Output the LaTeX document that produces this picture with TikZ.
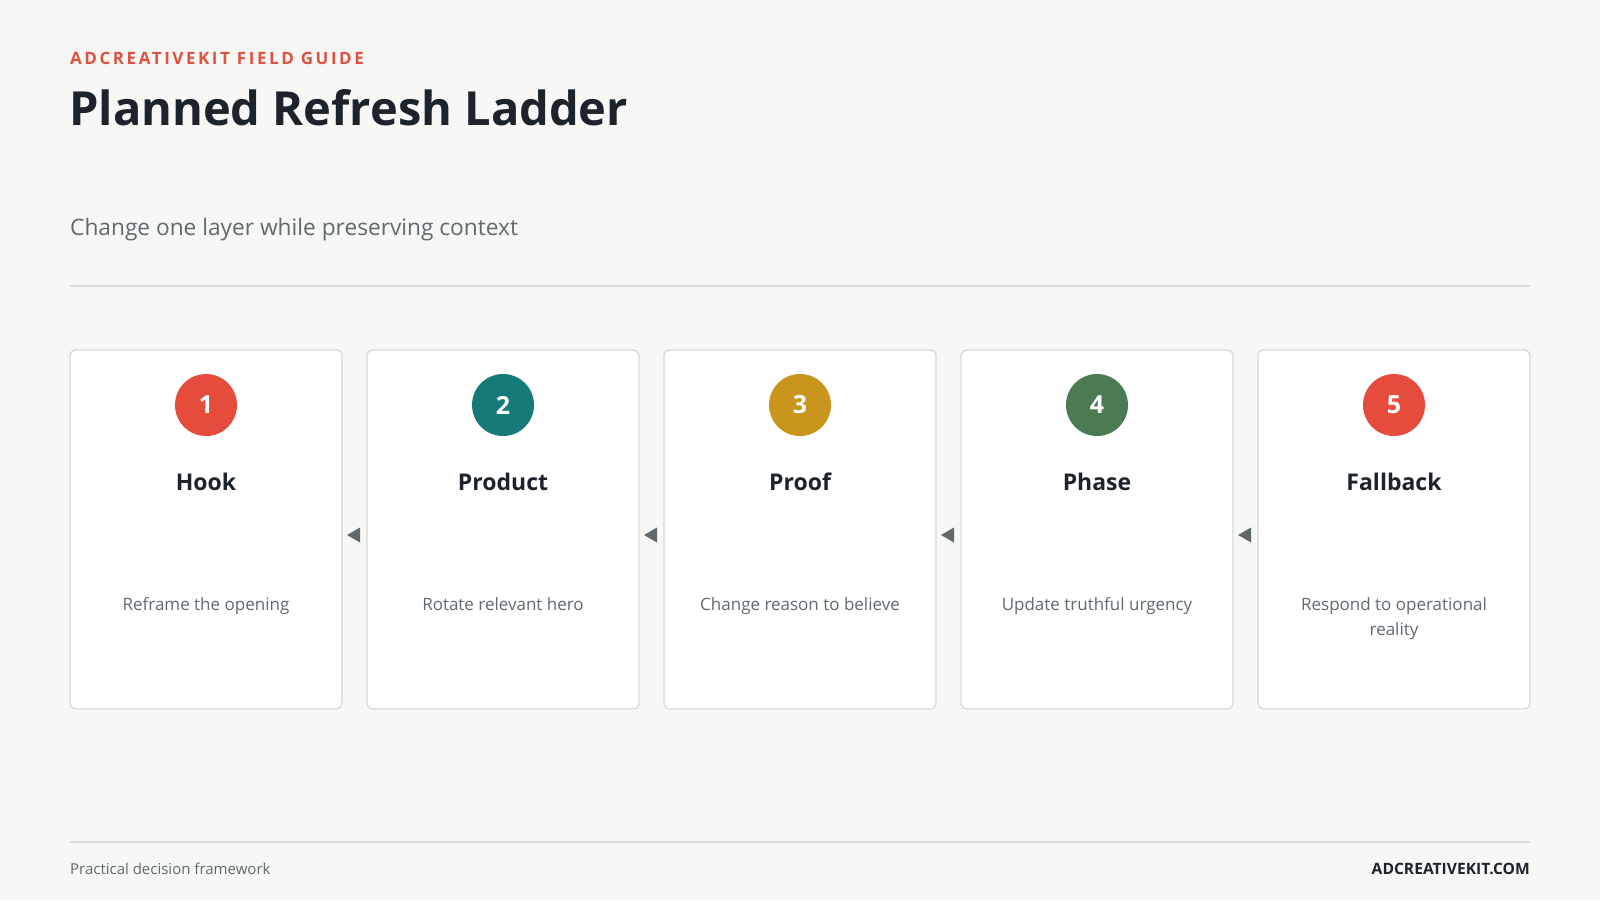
\documentclass[tikz,border=0pt]{standalone}
\usepackage{fontspec}
\setmainfont{Open Sans}
\newfontfamily\eyebrowfont[LetterSpace=15]{Open Sans}
\usetikzlibrary{positioning}
\definecolor{bgc}{HTML}{F7F7F5}
\definecolor{rulec}{HTML}{DCDEDD}
\definecolor{cardb}{HTML}{D8DBDB}
\definecolor{inkc}{HTML}{1C232B}
\definecolor{mutedc}{HTML}{5F6A70}
\definecolor{accentc}{HTML}{E0523F}
\definecolor{cA}{HTML}{E64C3C}
\definecolor{cB}{HTML}{167A78}
\definecolor{cC}{HTML}{C9951D}
\definecolor{cD}{HTML}{4B7B52}
\definecolor{cE}{HTML}{E64C3C}
\definecolor{arrc}{HTML}{5E686D}
\hyphenpenalty=10000
\exhyphenpenalty=10000
\tikzset{
  x=1pt,y=-1pt,
  card/.style={draw=cardb,line width=1.4pt,fill=white,rounded corners=6pt},
  badge/.style={circle,minimum size=62pt,inner sep=0pt,text=white,font=\fontsize{25}{30}\selectfont\bfseries},
  ctitle/.style={text=inkc,font=\fontsize{23}{28}\selectfont\bfseries,anchor=center},
  cdesc/.style={text=mutedc,font=\fontsize{17}{25}\selectfont,align=center,anchor=north},
  tri/.style={fill=arrc,draw=none},
}
\begin{document}
\begin{tikzpicture}
\useasboundingbox (0,0) rectangle (1600,900);
\fill[bgc] (0,0) rectangle (1600,900);
\node[anchor=west,inner sep=0,text=accentc,font=\eyebrowfont\fontsize{17}{20}\selectfont\bfseries] (eyebrow) at (70,58) {ADCREATIVEKIT FIELD GUIDE};
\node[anchor=base west,inner sep=0,text=inkc,font=\fontsize{47}{56}\selectfont\bfseries] (title) at (69,125) {Planned Refresh Ladder};
\node[anchor=west,inner sep=0,text=mutedc,font=\fontsize{22.7}{28}\selectfont] (sub) at (70,230) {Change one layer while preserving context};
\draw[rulec,line width=1.5pt] (70,286) coordinate (r1a) -- (1530,286) coordinate (r1b);
\foreach \i/\x/\col/\num/\ttl/\dsc in {
  1/70/cA/1/Hook/{Reframe the opening},
  2/367/cB/2/Product/{Rotate relevant hero},
  3/664/cC/3/Proof/{Change reason to believe},
  4/961/cD/4/Phase/{Update truthful urgency},
  5/1258/cE/5/Fallback/{Respond to operational\\reality}}{
  \draw[card] (\x,350) rectangle (\x+272,709);
  \node[badge,fill=\col] (b\i) at (\x+136,405) {\num};
  \node[ctitle] (t\i) at (\x+136,482) {\ttl};
  \node[cdesc] (d\i) at (\x+136,594) {\dsc};
}
\foreach \i/\x in {1/354,2/651,3/948,4/1245}{
  \coordinate (a\i) at (\x,535);
  \fill[tri] (\x-7,535) -- (\x+6,527.5) -- (\x+6,542.5) -- cycle;
}
\draw[rulec,line width=1.5pt] (70,842) coordinate (r2a) -- (1530,842) coordinate (r2b);
\node[anchor=west,inner sep=0,text=mutedc,font=\fontsize{15}{18}\selectfont] (foot) at (70,869) {Practical decision framework};
\node[anchor=east,inner sep=0,text=inkc,font=\fontsize{15.6}{18}\selectfont\bfseries] (brand) at (1530,869) {ADCREATIVEKIT.COM};
\end{tikzpicture}
\end{document}
